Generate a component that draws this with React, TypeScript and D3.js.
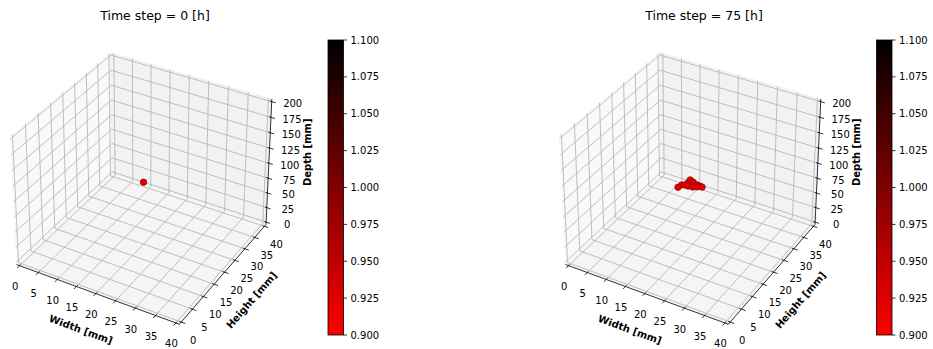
import React from "react";
import * as d3 from "d3";

// axis ranges [mm]
const widthDomain = [0, 40];
const heightDomain = [0, 40];
const depthDomain = [0, 200];
const widthTicks = d3.range(0, 41, 5);
const heightTicks = d3.range(0, 41, 5);
const depthTicks = d3.range(0, 201, 25);

// cell positions, time step 0 h
const t0Width = [20];
const t0Height = [20];
const t0Depth = [100];
const t0Value = [1.0];

// cell positions, time step 75 h
const t75Width = [18.2, 18.5, 19.1, 19.1, 20.1, 21.4, 22.2, 19.9, 21.0, 21.8, 22.8, 19.3];
const t75Height = [16.7, 17.9, 18.2, 20.5, 20.1, 19.6, 19.5, 18.2, 18.4, 18.9, 19.4, 19.2];
const t75Depth = [100, 100, 100, 100, 100, 100, 100, 100, 100, 100, 100, 100];
const t75Value = [1, 1, 1, 1, 1, 1, 1, 1, 1, 1, 1, 1];

const W = 933;
const H = 349;
const FONT = "DejaVu Sans";

// view (matplotlib-like camera)
const ELEV = 32;
const AZIM = -60;
const DIST = 10;
const PAD = 1 / 48;
const boxK = 1.8294640721620434 / Math.hypot(4, 4, 3);
const BOX = [4 * boxK, 4 * boxK, 3 * boxK];

type V3 = [number, number, number];
const dot = (a: number[], b: number[]) => a[0] * b[0] + a[1] * b[1] + a[2] * b[2];
const cross = (a: number[], b: number[]): V3 => [
  a[1] * b[2] - a[2] * b[1],
  a[2] * b[0] - a[0] * b[2],
  a[0] * b[1] - a[1] * b[0],
];

function makeCamera() {
  const el = (ELEV * Math.PI) / 180;
  const az = (AZIM * Math.PI) / 180;
  const n = [Math.cos(el) * Math.cos(az), Math.cos(el) * Math.sin(az), Math.sin(el)];
  const eye = BOX.map((b, i) => b / 2 + DIST * n[i]);
  let u = cross([0, 0, 1], n);
  const un = Math.hypot(...u);
  u = u.map((c) => c / un) as V3;
  const v = cross(n, u);
  return (f: V3) => {
    const p = f.map((c, i) => c * BOX[i] - eye[i]);
    const d = -dot(n, p);
    return { x: dot(u, p) / d, y: dot(v, p) / d, depth: d };
  };
}
const cam = makeCamera();

// colour map: red -> black
function nonsingular(vals: number[]) {
  let [lo, hi] = d3.extent(vals) as [number, number];
  if (lo === hi) {
    lo -= 0.1 * Math.abs(lo);
    hi += 0.1 * Math.abs(hi);
  }
  return [lo, hi];
}

type PanelProps = {
  id: string;
  title: string;
  xs: number[];
  ys: number[];
  zs: number[];
  values: number[];
  ox: number;
  cbX: number;
};

function Panel({ id, title, xs, ys, zs, values, ox, cbX }: PanelProps) {
  const oy = 182.2;
  const sx = d3.scaleLinear().domain([-0.1, 0.1]).range([ox - 157, ox + 157]);
  const sy = d3.scaleLinear().domain([-0.1, 0.1]).range([oy + 167.5, oy - 167.5]);
  const fxS = d3.scaleLinear().domain(widthDomain).range([0, 1]);
  const fyS = d3.scaleLinear().domain(heightDomain).range([0, 1]);
  const fzS = d3.scaleLinear().domain(depthDomain).range([0, 1]);

  const P = (f: V3) => {
    const q = cam(f);
    return [sx(q.x), sy(q.y)] as [number, number];
  };
  const line = (p: V3, q: V3) => {
    const [x1, y1] = P(p);
    const [x2, y2] = P(q);
    return { x1, y1, x2, y2 };
  };
  const poly = (pts: V3[]) => pts.map((p) => P(p).join(",")).join(" ");

  const a = -PAD;
  const b = 1 + PAD;

  const panes = [
    { pts: [[a, a, a], [a, b, a], [a, b, b], [a, a, b]] as V3[], fill: "#f9f9f9" },
    { pts: [[a, b, a], [b, b, a], [b, b, b], [a, b, b]] as V3[], fill: "#f2f2f2" },
    { pts: [[a, a, a], [b, a, a], [b, b, a], [a, b, a]] as V3[], fill: "#f5f5f5" },
  ];

  const grid: { x1: number; y1: number; x2: number; y2: number }[] = [];
  widthTicks.forEach((t) => {
    const f = fxS(t);
    grid.push(line([f, a, a], [f, b, a]));
    grid.push(line([f, b, a], [f, b, b]));
  });
  heightTicks.forEach((t) => {
    const f = fyS(t);
    grid.push(line([a, f, a], [b, f, a]));
    grid.push(line([a, f, a], [a, f, b]));
  });
  depthTicks.forEach((t) => {
    const f = fzS(t);
    grid.push(line([a, b, f], [b, b, f]));
    grid.push(line([a, a, f], [a, b, f]));
  });

  const tin = 0.012;
  const tout = 0.025;

  const cdom = nonsingular(values);
  const cmap = d3.scaleLinear<string>().domain(cdom).range(["#ff0000", "#000000"]);
  const cbTop = 40;
  const cbBot = 335;
  const cbW = 15.5;
  const cbY = d3.scaleLinear().domain(cdom).range([cbBot, cbTop]);
  const cbTicks = d3.range(0, 9).map((i) => cdom[0] + (i * (cdom[1] - cdom[0])) / 8);

  const pts = xs
    .map((x, i) => {
      const q = cam([fxS(x), fyS(ys[i]), fzS(zs[i])]);
      return { x: sx(q.x), y: sy(q.y), depth: q.depth, v: values[i] };
    })
    .sort((p, q) => q.depth - p.depth);

  const xAx = [P([a, a, a]), P([b, a, a])];
  const yAx = [P([b, a, a]), P([b, b, a])];
  const ang = (s: [number, number][]) =>
    (Math.atan2(s[1][1] - s[0][1], s[1][0] - s[0][0]) * 180) / Math.PI;
  const xMid = P([0.5, a, a]);
  const yMid = P([b, 0.5, a]);
  const zMid = P([b, b, 0.5]);

  return (
    <g fontFamily={FONT}>
      <text x={ox + 11.5} y={19.5} textAnchor="middle" fontSize={12.5}>
        {title}
      </text>
      {panes.map((p, i) => (
        <polygon key={i} points={poly(p.pts)} fill={p.fill} stroke={p.fill} strokeWidth={1} />
      ))}
      {grid.map((g, i) => (
        <line key={i} {...g} stroke="#b0b0b0" strokeWidth={0.8} />
      ))}
      {/* axis lines */}
      <line {...line([a, a, a], [b, a, a])} stroke="#000" strokeWidth={0.8} />
      <line {...line([b, a, a], [b, b, a])} stroke="#000" strokeWidth={0.8} />
      <line {...line([b, b, a], [b, b, b])} stroke="#000" strokeWidth={0.8} />
      {widthTicks.map((t) => {
        const f = fxS(t);
        const [tx, ty] = P([f, a, a]);
        return (
          <g key={"x" + t}>
            <line {...line([f, a + tin, a], [f, a - tout, a])} stroke="#000" strokeWidth={0.8} />
            <text x={tx - 4.5} y={ty + 21} fontSize={10} textAnchor="middle" dominantBaseline="central">
              {t}
            </text>
          </g>
        );
      })}
      {heightTicks.map((t) => {
        const f = fyS(t);
        const [tx, ty] = P([b, f, a]);
        return (
          <g key={"y" + t}>
            <line {...line([b - tin, f, a], [b + tout, f, a])} stroke="#000" strokeWidth={0.8} />
            <text x={tx + 12} y={ty + 18} fontSize={10} textAnchor="middle" dominantBaseline="central">
              {t}
            </text>
          </g>
        );
      })}
      {depthTicks.map((t) => {
        const f = fzS(t);
        const [tx, ty] = P([b, b, f]);
        return (
          <g key={"z" + t}>
            <line {...line([b - tin, b, f], [b + tout, b, f])} stroke="#000" strokeWidth={0.8} />
            <text x={tx + 21} y={ty + 2} fontSize={10} textAnchor="middle" dominantBaseline="central">
              {t}
            </text>
          </g>
        );
      })}
      <text
        transform={`translate(${xMid[0] - 15},${xMid[1] + 36}) rotate(${ang(xAx)})`}
        fontSize={10}
        fontWeight="bold"
        textAnchor="middle"
        dominantBaseline="central"
      >
        Width [mm]
      </text>
      <text
        transform={`translate(${yMid[0] + 27},${yMid[1] + 28}) rotate(${ang(yAx)})`}
        fontSize={10}
        fontWeight="bold"
        textAnchor="middle"
        dominantBaseline="central"
      >
        Height [mm]
      </text>
      <text
        transform={`translate(${zMid[0] + 39},${zMid[1] - 11}) rotate(-90)`}
        fontSize={10}
        fontWeight="bold"
        textAnchor="middle"
        dominantBaseline="central"
      >
        Depth [mm]
      </text>
      {/* scatter */}
      {pts.map((p, i) => (
        <circle key={i} cx={p.x} cy={p.y} r={3.2} fill="#e50000" stroke="#9a0000" strokeWidth={0.8} />
      ))}
      {/* colorbar */}
      <defs>
        <linearGradient id={id} x1="0" y1="1" x2="0" y2="0">
          {d3.range(0, 1.0001, 0.25).map((s) => (
            <stop key={s} offset={s} stopColor={cmap(cdom[0] + s * (cdom[1] - cdom[0]))} />
          ))}
        </linearGradient>
      </defs>
      <rect x={cbX} y={cbTop} width={cbW} height={cbBot - cbTop} fill={`url(#${id})`} />
      <rect x={cbX} y={cbTop} width={cbW} height={cbBot - cbTop} fill="none" stroke="#000" strokeWidth={0.8} />
      {cbTicks.map((t, i) => (
        <g key={i} transform={`translate(${cbX + cbW},${cbY(t)})`}>
          <line x1={0} x2={3.5} stroke="#000" strokeWidth={0.8} />
          <text x={7} fontSize={10} dominantBaseline="central">
            {d3.format(".3f")(t)}
          </text>
        </g>
      ))}
    </g>
  );
}

export default function App() {
  return (
    <svg width={W} height={H} style={{ position: "absolute", left: 0, top: 0, background: "#fff" }}>
      <rect width={W} height={H} fill="#fff" />
      <Panel
        id="cb0"
        title="Time step = 0 [h]"
        xs={t0Width}
        ys={t0Height}
        zs={t0Depth}
        values={t0Value}
        ox={143.5}
        cbX={328}
      />
      <Panel
        id="cb75"
        title="Time step = 75 [h]"
        xs={t75Width}
        ys={t75Height}
        zs={t75Depth}
        values={t75Value}
        ox={692.5}
        cbX={876.5}
      />
    </svg>
  );
}
